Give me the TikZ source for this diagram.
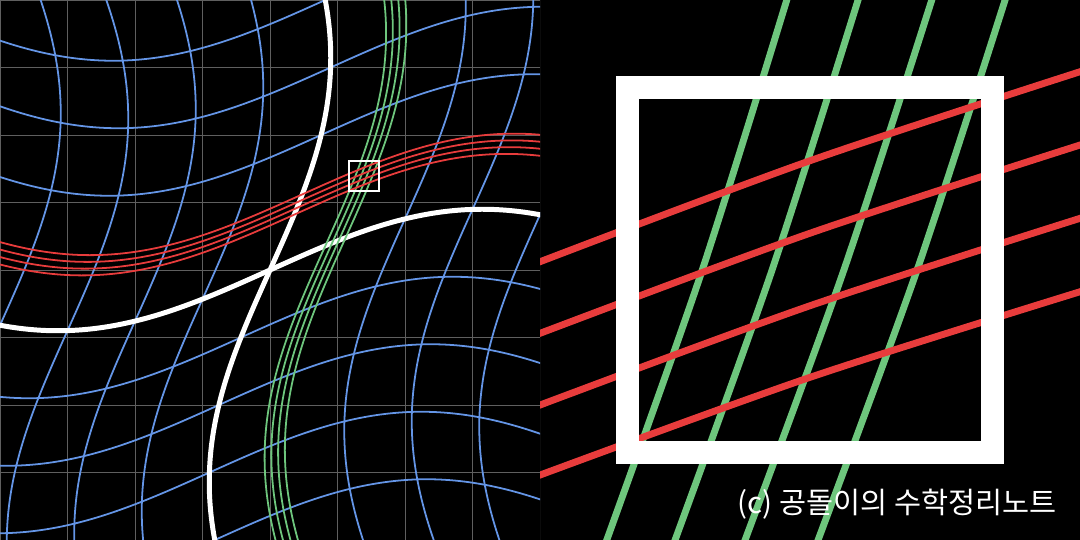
\documentclass[tikz,border=0pt]{standalone}
\usepackage{fontspec}
\newfontfamily\kofont{Noto Sans CJK KR}
\definecolor{gridgray}{RGB}{95,95,95}
\definecolor{warpblue}{RGB}{100,149,230}
\definecolor{warpred}{RGB}{232,60,60}
\definecolor{warpgreen}{RGB}{110,198,125}
\newcommand{\wamp}{0.9}
\newcommand{\wfrq}{0.5}
\newcommand{\zc}{1.39}

\begin{document}
\begin{tikzpicture}[
  gridline/.style={gridgray, line width=0.4pt},
  warpline/.style={warpblue, line width=0.75pt},
  axisline/.style={white, line width=2.1pt},
  redline/.style={warpred, line width=0.75pt},
  greenline/.style={warpgreen, line width=0.75pt},
  zoombox/.style={white, line width=0.8pt},
  redthick/.style={warpred, line width=2.9pt, line cap=rect},
  greenthick/.style={warpgreen, line width=2.9pt, line cap=rect}]
\fill[black] (-4,-4) rectangle (12,4);
\useasboundingbox (-4,-4) rectangle (12,4);

% Left: the warped grid
\begin{scope}
\clip (-4,-4) rectangle (4,4);
\draw[gridline] (-4,-4) grid (4,4);
\foreach \c in {-5,-4,-3,-2,-1,2,3,4,5} {
  \draw[warpline] plot[domain=-5.5:5.5, samples=90, smooth, variable=\t]
    ({\t + \wamp*sin(\wfrq*\c r)}, {\c + \wamp*sin(\wfrq*\t r)});
  \draw[warpline] plot[domain=-5.5:5.5, samples=90, smooth, variable=\t]
    ({\c + \wamp*sin(\wfrq*\t r)}, {\t + \wamp*sin(\wfrq*\c r)});
}
% images of the two axes
\draw[axisline] plot[domain=-5:5, samples=90, smooth, variable=\t]
  ({\t}, {\wamp*sin(\wfrq*\t r)});
\draw[axisline] plot[domain=-5:5, samples=90, smooth, variable=\t]
  ({\wamp*sin(\wfrq*\t r)}, {\t});
% lines near the point
\foreach \c in {0.82,0.92,1.02,1.12}
  \draw[greenline] plot[domain=-5.5:5.5, samples=90, smooth, variable=\t]
    ({\c + \wamp*sin(\wfrq*\t r)}, {\t + \wamp*sin(\wfrq*\c r)});
\foreach \c in {0.82,0.92,1.02,1.12}
  \draw[redline] plot[domain=-5.5:5.5, samples=90, smooth, variable=\t]
    ({\t + \wamp*sin(\wfrq*\c r)}, {\c + \wamp*sin(\wfrq*\t r)});
\draw[zoombox] (\zc-0.21875,\zc-0.21875) rectangle (\zc+0.21875,\zc+0.21875);
\end{scope}

% Right: zoomed view (pixel units, y downwards)
\begin{scope}
\clip (4,-4) rectangle (12,4);
\begin{scope}[shift={(-4,4)}, x=0.0148148cm, y=-0.0148148cm]
\foreach \xt/\xm/\xb in {786.7/702.2/606.7, 858/772/675, 931.7/843.8/745, 1005/917/818}
  \draw[greenthick] plot[smooth] coordinates {(\xt,0) (\xm,270) (\xb,540)};
\foreach \yl/\ym/\yr in {261.7/160.7/71.7, 333.3/233.2/145, 405/305.7/218.3, 475/377.3/291.7}
  \draw[redthick] plot[smooth] coordinates {(540,\yl) (810,\ym) (1080,\yr)};
\draw[white, line width=9.7pt] (627.7,87.7) rectangle (992.3,452);
\end{scope}
\end{scope}

\node[anchor=base east, text=white, font=\kofont\fontsize{12.4}{15}\selectfont, inner sep=0pt]
  (credit) at (11.66,-3.6) {(c) 공돌이의 수학정리노트};
\end{tikzpicture}
\end{document}
